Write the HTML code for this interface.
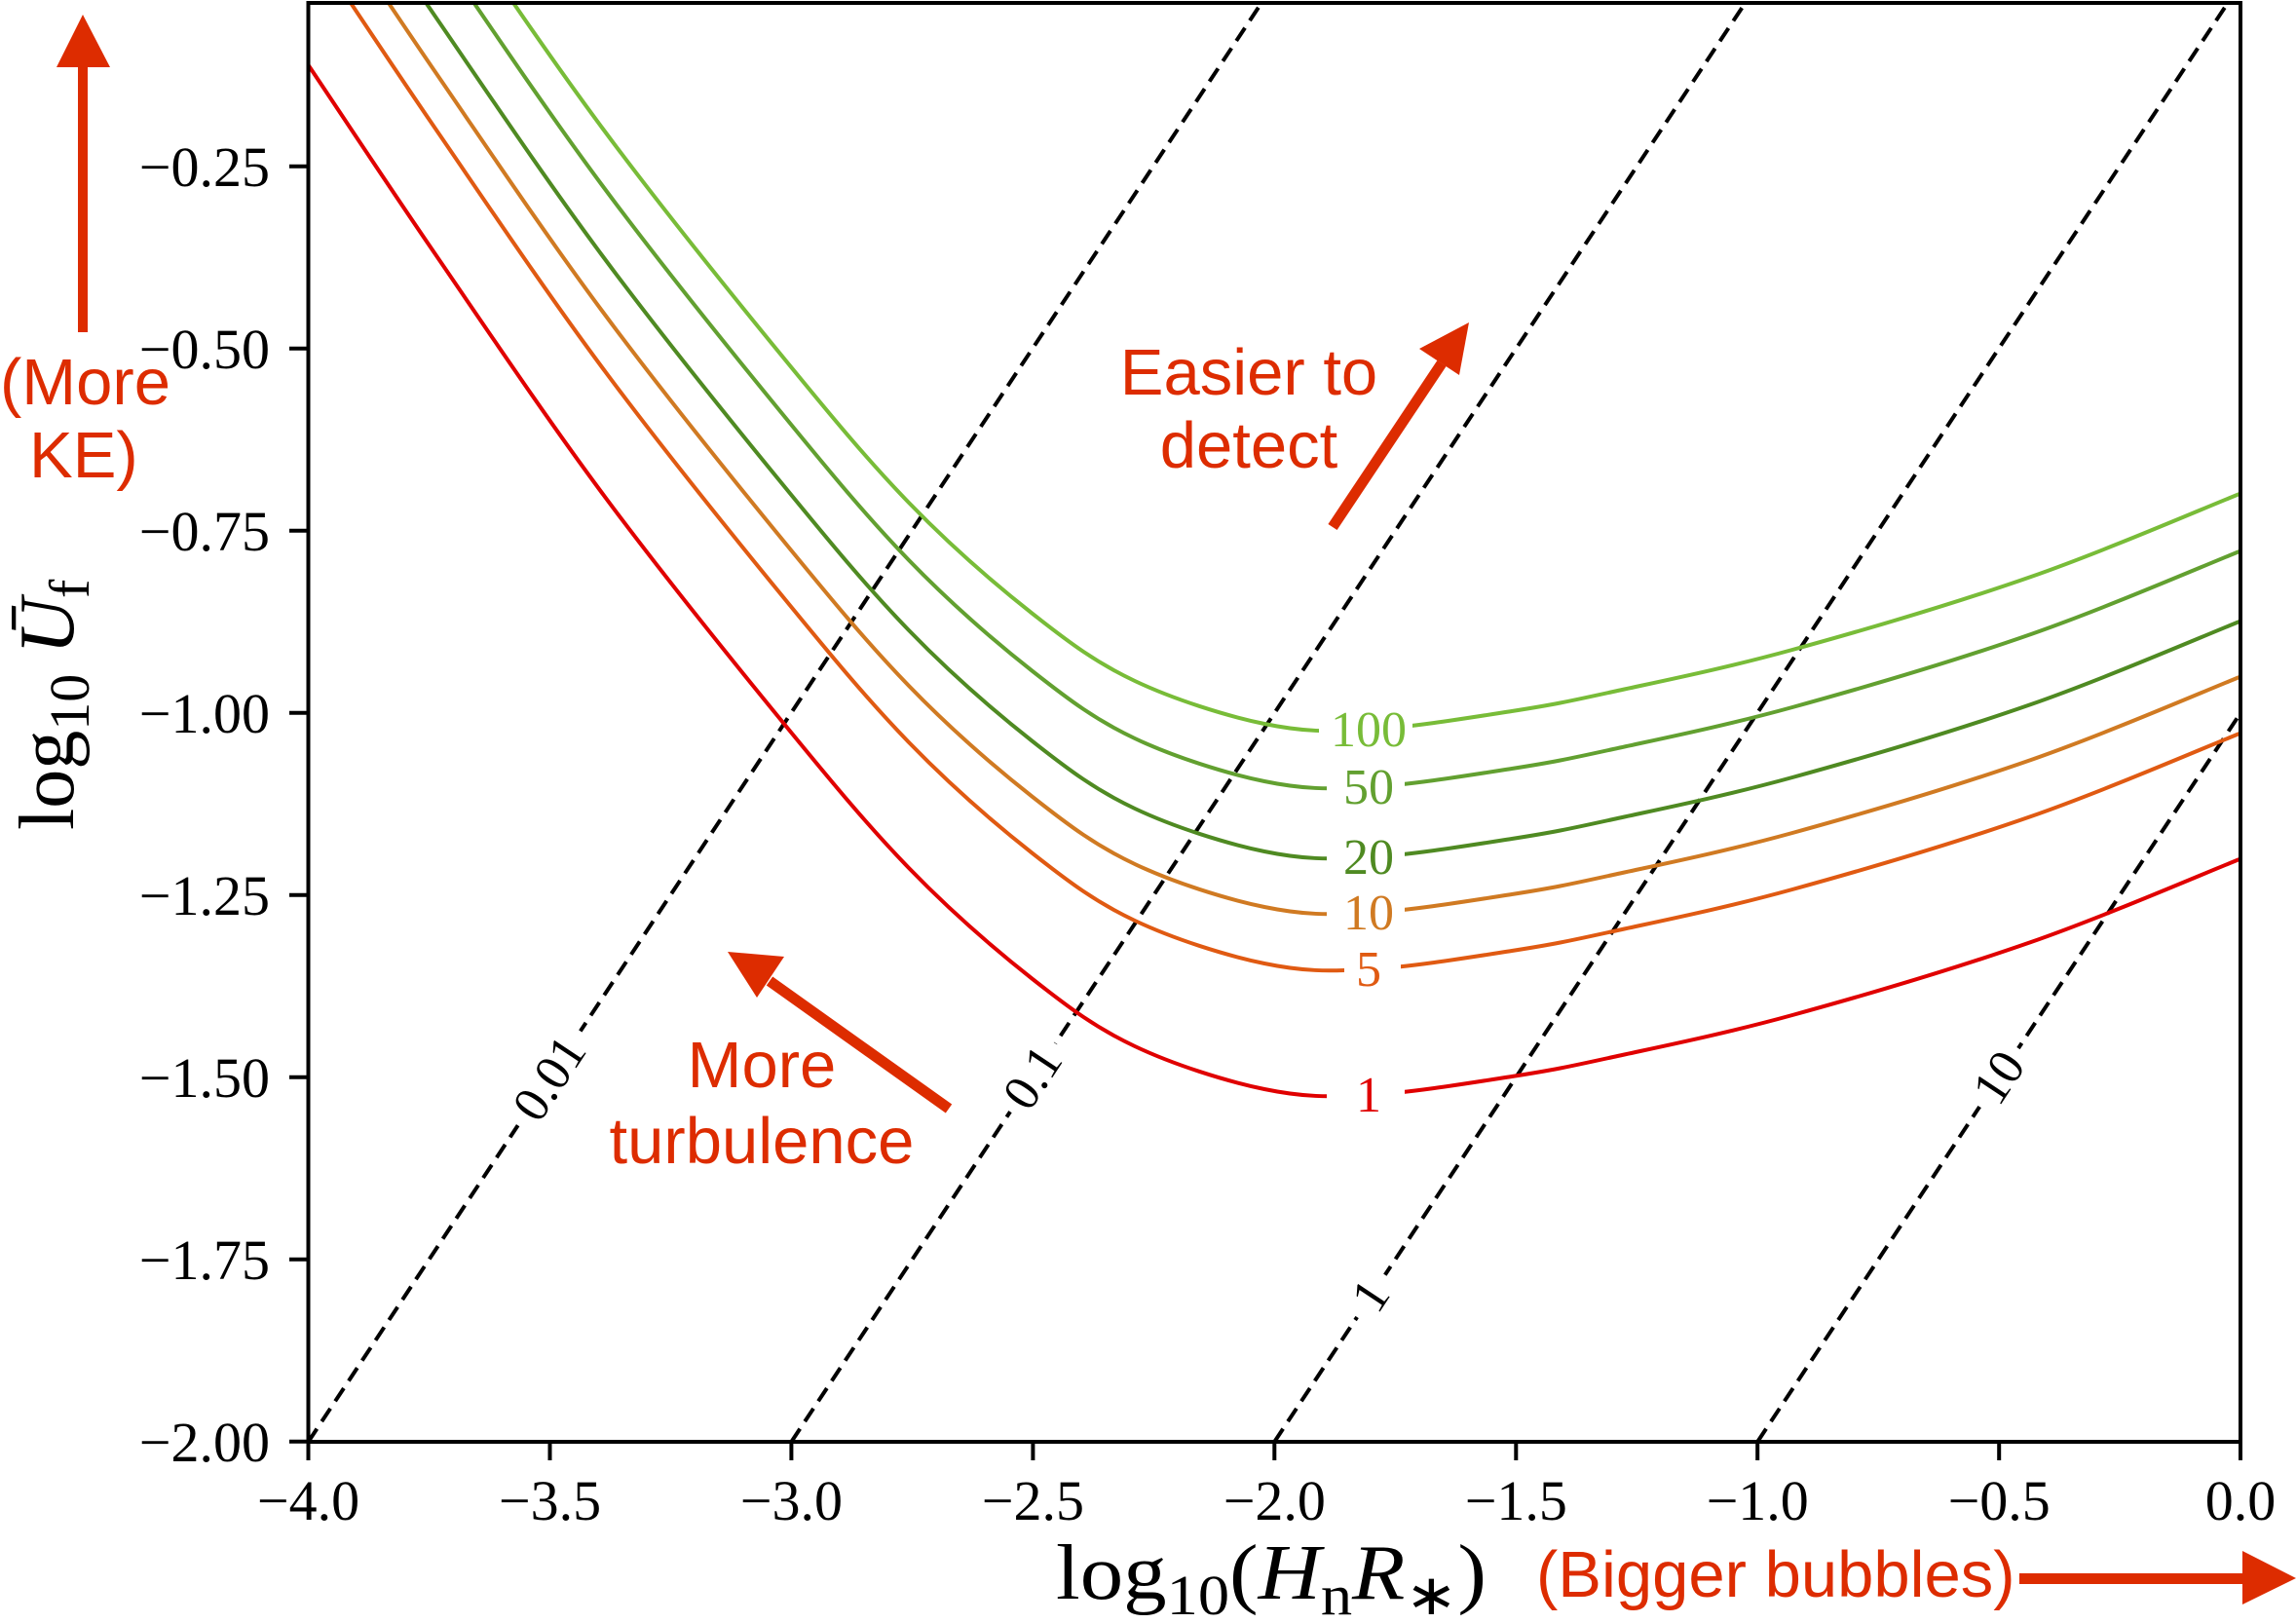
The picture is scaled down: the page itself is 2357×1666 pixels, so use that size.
<!DOCTYPE html>
<html><head><meta charset="utf-8"><style>
html,body{margin:0;padding:0;background:#fff;}
svg{display:block}
.tk{font-family:"Liberation Serif",serif;font-size:58px;fill:#000}
.lb{font-family:"Liberation Serif",serif;font-size:52px}
.an{font-family:"Liberation Sans",sans-serif;font-size:67px;fill:#dd2c00}
</style></head><body>
<svg width="2357" height="1666" viewBox="0 0 2357 1666" xmlns="http://www.w3.org/2000/svg">
<defs>
<clipPath id="pc"><rect x="316.5" y="3" width="1983.5" height="1477"/></clipPath>
<path id="rc" fill="none" d="M316,66 C338.2,99 398.7,190.7 449,264 C499.3,337.3 559.5,427.2 618,506 C676.5,584.8 747.5,672.8 800,737 C852.5,801.2 889.7,846.3 933,891 C976.3,935.7 1021.3,974.5 1060,1005 C1098.7,1035.5 1125.3,1055.2 1165,1074 C1204.7,1092.8 1258,1109.7 1298,1118 C1338,1126.3 1362.7,1126.2 1405,1124 C1447.3,1121.8 1510.2,1111.5 1552,1105 C1593.8,1098.5 1608,1095.5 1656,1085 C1704,1074.5 1768.5,1061.7 1840,1042 C1911.5,1022.3 2008.5,993.7 2085,967 C2161.5,940.3 2263.3,896.2 2299,882"/>
</defs>
<rect width="2357" height="1666" fill="#fff"/>
<g clip-path="url(#pc)">
<g stroke="#000" stroke-width="4" stroke-dasharray="16,9" fill="none">
<line x1="316.5" y1="1480" x2="1295" y2="3"/>
<line x1="812.4" y1="1480" x2="1791.6" y2="3"/>
<line x1="1308.3" y1="1480" x2="2287" y2="3"/>
<line x1="1804.2" y1="1480" x2="2300" y2="732"/>
</g>
<g stroke-width="4" stroke-linejoin="round">
<use href="#rc" stroke="#e00000"/>
<use href="#rc" stroke="#e05a12" transform="translate(0,-129)"/>
<use href="#rc" stroke="#d07a22" transform="translate(0,-187)"/>
<use href="#rc" stroke="#4f8a22" transform="translate(0,-244)"/>
<use href="#rc" stroke="#62a030" transform="translate(0,-316)"/>
<use href="#rc" stroke="#78bc38" transform="translate(0,-375)"/>
</g>
</g>
<g class="lb" text-anchor="middle">
<rect x="1362" y="1095" width="80" height="56" fill="#fff"/><text x="1405" y="1141" fill="#e00000">1</text>
<rect x="1380" y="966" width="58" height="56" fill="#fff"/><text x="1405" y="1012" fill="#e05a12">5</text>
<rect x="1362" y="908" width="80" height="56" fill="#fff"/><text x="1405" y="954" fill="#d07a22">10</text>
<rect x="1362" y="851" width="80" height="56" fill="#fff"/><text x="1405" y="897" fill="#4f8a22">20</text>
<rect x="1362" y="779" width="80" height="56" fill="#fff"/><text x="1405" y="825" fill="#62a030">50</text>
<rect x="1354" y="720" width="96" height="56" fill="#fff"/><text x="1405" y="766" fill="#78bc38">100</text>
</g>
<g class="lb" text-anchor="middle" fill="#000">
<g transform="translate(564,1107) rotate(-56.45)"><rect x="-58" y="-26" width="116" height="52" fill="#fff"/><text x="0" y="17">0.01</text></g>
<g transform="translate(1060,1106) rotate(-56.45)"><rect x="-42" y="-26" width="84" height="52" fill="#fff"/><text x="0" y="17">0.1</text></g>
<g transform="translate(1407,1330) rotate(-56.45)"><rect x="-26" y="-26" width="52" height="52" fill="#fff"/><text x="0" y="17">1</text></g>
<g transform="translate(2052,1106) rotate(-56.45)"><rect x="-36" y="-26" width="72" height="52" fill="#fff"/><text x="0" y="17">10</text></g>
</g>
<rect x="316.5" y="3" width="1983.5" height="1477" fill="none" stroke="#000" stroke-width="4"/>
<g stroke="#000" stroke-width="4">
<line x1="316.5" y1="1480" x2="316.5" y2="1499"/><line x1="564.5" y1="1480" x2="564.5" y2="1499"/>
<line x1="812.4" y1="1480" x2="812.4" y2="1499"/><line x1="1060.4" y1="1480" x2="1060.4" y2="1499"/>
<line x1="1308.3" y1="1480" x2="1308.3" y2="1499"/><line x1="1556.3" y1="1480" x2="1556.3" y2="1499"/>
<line x1="1804.2" y1="1480" x2="1804.2" y2="1499"/><line x1="2052.2" y1="1480" x2="2052.2" y2="1499"/>
<line x1="2300" y1="1480" x2="2300" y2="1499"/>
<line x1="297" y1="170.7" x2="316.5" y2="170.7"/><line x1="297" y1="357.7" x2="316.5" y2="357.7"/>
<line x1="297" y1="544.7" x2="316.5" y2="544.7"/><line x1="297" y1="731.7" x2="316.5" y2="731.7"/>
<line x1="297" y1="918.7" x2="316.5" y2="918.7"/><line x1="297" y1="1105.7" x2="316.5" y2="1105.7"/>
<line x1="297" y1="1292.7" x2="316.5" y2="1292.7"/><line x1="297" y1="1479.7" x2="316.5" y2="1479.7"/>
</g>
<g class="tk" text-anchor="middle">
<text x="316.5" y="1560">−4.0</text><text x="564.5" y="1560">−3.5</text><text x="812.4" y="1560">−3.0</text>
<text x="1060.4" y="1560">−2.5</text><text x="1308.3" y="1560">−2.0</text><text x="1556.3" y="1560">−1.5</text>
<text x="1804.2" y="1560">−1.0</text><text x="2052.2" y="1560">−0.5</text><text x="2300" y="1560">0.0</text>
</g>
<g class="tk" text-anchor="end">
<text x="277" y="191">−0.25</text><text x="277" y="378">−0.50</text><text x="277" y="565">−0.75</text>
<text x="277" y="752">−1.00</text><text x="277" y="939">−1.25</text><text x="277" y="1126">−1.50</text>
<text x="277" y="1313">−1.75</text><text x="277" y="1500">−2.00</text>
</g>
<text x="1084" y="1641" font-family="Liberation Serif,serif" font-size="80" fill="#000" textLength="442" lengthAdjust="spacingAndGlyphs">log<tspan font-size="58" dy="16">10</tspan><tspan dy="-16">(</tspan><tspan font-style="italic">H</tspan><tspan font-size="58" dy="16">n</tspan><tspan font-style="italic" dy="-16">R</tspan><tspan font-size="58" dy="16">∗</tspan><tspan dy="-16">)</tspan></text>
<text transform="translate(75,852) rotate(-90)" font-family="Liberation Serif,serif" font-size="80" fill="#000">log<tspan font-size="58" dy="16">10</tspan><tspan font-style="italic" dy="-16"> Ū</tspan><tspan font-size="58" dy="16">f</tspan></text>
<text class="an" x="1577" y="1639" font-size="64">(Bigger bubbles)</text>
<rect x="2073" y="1615" width="232" height="11" fill="#dd2c00"/>
<polygon points="2302,1592 2357,1620 2302,1647" fill="#dd2c00"/>
<rect x="80" y="66" width="10" height="275" fill="#dd2c00"/>
<polygon points="58,69 85,15 113,69" fill="#dd2c00"/>
<text class="an" x="0" y="415">(More</text>
<text class="an" x="30" y="490">KE)</text>
<g class="an" text-anchor="middle">
<text x="1282" y="405">Easier to</text><text x="1282" y="480">detect</text>
<text x="782" y="1116">More</text><text x="782" y="1194">turbulence</text>
</g>
<line x1="1368" y1="541" x2="1480" y2="373" stroke="#dd2c00" stroke-width="11"/>
<polygon points="1508,331 1457,358 1498,385" fill="#dd2c00"/>
<line x1="974" y1="1138" x2="790" y2="1007" stroke="#dd2c00" stroke-width="11"/>
<polygon points="747,977 805,982 777,1024" fill="#dd2c00"/>
</svg>
</body></html>
